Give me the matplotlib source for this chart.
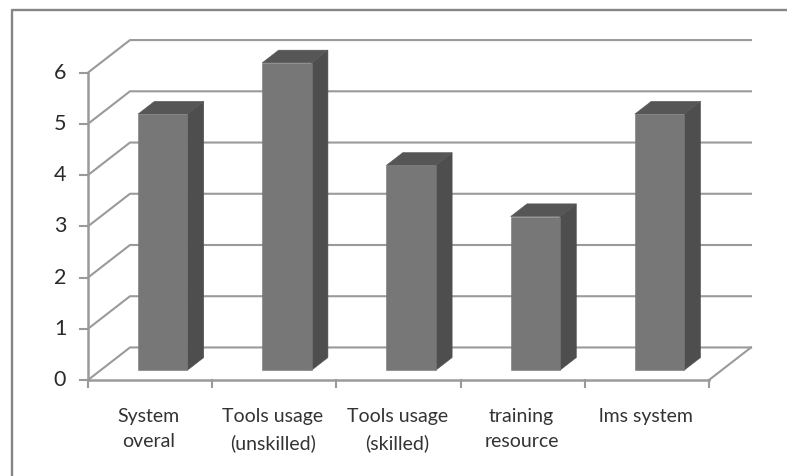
import matplotlib
matplotlib.use("Agg")
import matplotlib.pyplot as plt
from matplotlib.patches import Polygon

categories = ["System\noveral", "Tools usage\n(unskilled)", "Tools usage\n(skilled)",
              "training\nresource", "lms system"]
values = [5, 6, 4, 3, 5]
y_ticks = [0, 1, 2, 3, 4, 5, 6]

W, H = 787, 476
GRID = "#9a9a9a"
FRONT = "#777777"
SIDE = "#4e4e4e"
TOP = "#565656"

# oblique depth: one depth unit moves this far across and up, in data units
DEPTH_X = 0.338
DEPTH_Y = 0.635
BAR_WIDTH = 0.397
BAR_NEAR = 0.3
BAR_FAR = 0.69


def project(x, y, d):
    return x + d * DEPTH_X, y + d * DEPTH_Y


plt.rcParams["font.family"] = ["Lato", "DejaVu Sans"]
fig = plt.figure(figsize=(W / 100, H / 100), dpi=100)
ax = fig.add_axes([88 / W, 1 - 380 / H, 621 / W, 307.4 / H])
ax.set_xlim(0, len(categories))
ax.set_ylim(0, 6)
ax.axis("off")

# chart border runs off the right and bottom edges
fig.add_artist(plt.Line2D([12 / W, 12 / W, 1], [0, 1 - 10 / H, 1 - 10 / H],
                          color="#858585", lw=1.7))

n = len(categories)
for v in y_ticks:
    bx, by = project(0, v, 1)
    ex, ey = project(n, v, 1)
    ax.plot([0, bx, ex], [v, by, ey], color=GRID, lw=1.5, clip_on=False, zorder=1)
    ax.plot([-0.065, 0], [v, v], color=GRID, lw=1.5, clip_on=False, zorder=1)
    ax.text(-0.225, v, str(v), ha="center", va="center", fontsize=15.5, color="#2a2a2a")

# floor edge on the right, front axes, category ticks
ax.plot([n, project(n, 0, 1)[0]], [0, project(n, 0, 1)[1]], color=GRID, lw=1.5, clip_on=False, zorder=1)
ax.plot([0, 0], [0, 6], color=GRID, lw=1.8, clip_on=False, zorder=1)
ax.plot([0, n], [0, 0], color=GRID, lw=1.8, clip_on=False, zorder=1)
for i in range(n + 1):
    ax.plot([i, i], [0, -0.13], color=GRID, lw=1.5, clip_on=False, zorder=1)

for i, (label, v) in enumerate(zip(categories, values)):
    x0 = i + 0.5 - BAR_WIDTH / 2
    x1 = i + 0.5 + BAR_WIDTH / 2
    front = [project(x0, 0, BAR_NEAR), project(x1, 0, BAR_NEAR),
             project(x1, v, BAR_NEAR), project(x0, v, BAR_NEAR)]
    side = [project(x1, 0, BAR_NEAR), project(x1, 0, BAR_FAR),
            project(x1, v, BAR_FAR), project(x1, v, BAR_NEAR)]
    top = [project(x0, v, BAR_NEAR), project(x1, v, BAR_NEAR),
           project(x1, v, BAR_FAR), project(x0, v, BAR_FAR)]
    for pts, col in ((side, SIDE), (top, TOP), (front, FRONT)):
        ax.add_patch(Polygon(pts, closed=True, facecolor=col, edgecolor=col, lw=0.4,
                             clip_on=False, zorder=3))
    ax.text(i + 0.49, -0.54, label, ha="center", va="top", fontsize=14, color="#333333",
            linespacing=1.62)

fig.savefig("out.png", dpi=100)
